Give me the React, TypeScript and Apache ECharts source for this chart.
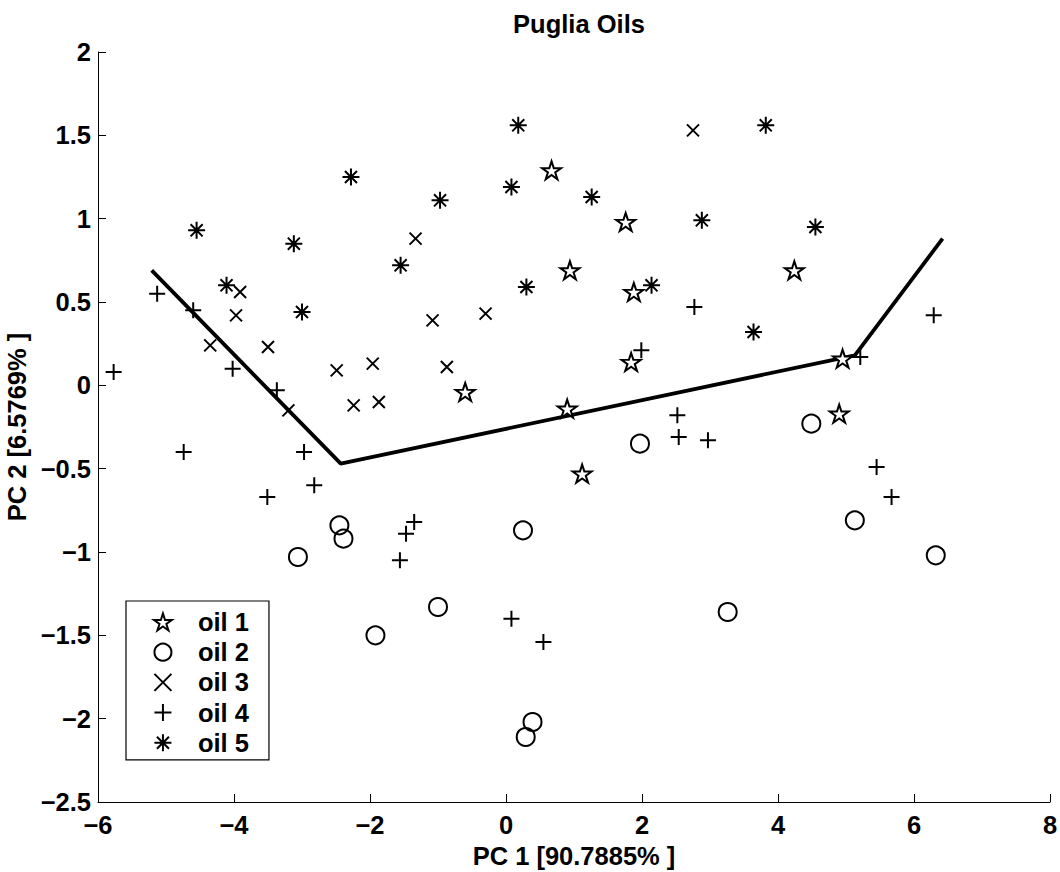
import React, { useEffect, useRef } from "react";
import * as echarts from "echarts";

const seriesNames = ["oil 1", "oil 2", "oil 3", "oil 4", "oil 5"];
const oil1 = [[0.67,1.29],[1.76,0.98],[0.94,0.69],[4.24,0.69],[1.88,0.56],[1.84,0.14],[4.95,0.16],[-0.60,-0.04],[0.90,-0.14],[4.90,-0.17],[1.12,-0.53]];
const oil2 = [[1.97,-0.35],[4.49,-0.23],[5.13,-0.81],[6.32,-1.02],[3.26,-1.36],[-2.45,-0.84],[-2.39,-0.92],[-3.06,-1.03],[0.25,-0.87],[-1.00,-1.33],[-1.92,-1.50],[0.39,-2.02],[0.29,-2.11]];
const oil3 = [[2.75,1.53],[-1.33,0.88],[-3.91,0.56],[-3.97,0.42],[-1.08,0.39],[-0.30,0.43],[-4.35,0.24],[-3.50,0.23],[-2.49,0.09],[-1.96,0.13],[-0.87,0.11],[-3.20,-0.15],[-2.24,-0.12],[-1.87,-0.10]];
const oil4 = [[-5.13,0.55],[-4.60,0.45],[-4.02,0.10],[-5.77,0.08],[-3.37,-0.03],[2.77,0.47],[6.29,0.42],[1.99,0.21],[5.21,0.17],[2.52,-0.18],[2.54,-0.31],[2.97,-0.33],[5.45,-0.49],[5.67,-0.67],[0.55,-1.54],[-4.74,-0.40],[-2.97,-0.40],[-2.82,-0.60],[-3.51,-0.67],[-1.35,-0.82],[-1.47,-0.89],[-1.56,-1.05],[0.08,-1.40]];
const oil5 = [[0.18,1.56],[-2.28,1.25],[0.08,1.19],[-0.97,1.11],[-4.55,0.93],[-3.12,0.85],[-1.55,0.72],[0.30,0.59],[-4.11,0.60],[-3.00,0.44],[3.82,1.56],[1.26,1.13],[2.88,0.99],[4.55,0.95],[2.14,0.60],[3.64,0.32]];
const trendLine = [[-5.21,0.69],[-2.43,-0.47],[5.13,0.18],[6.42,0.88]];

const xTicks = { min: -6, max: 8, interval: 2 };
const yTicks = { min: -2.5, max: 2, interval: 0.5 };

function starPath(): string {
  const pts: string[] = [];
  for (let k = 0; k < 10; k++) {
    const a = ((-90 + k * 36) * Math.PI) / 180;
    const r = k % 2 === 0 ? 10 : 3.82;
    pts.push(`${(10 + r * Math.cos(a)).toFixed(3)},${(10 + r * Math.sin(a)).toFixed(3)}`);
  }
  return "path://M" + pts.join(" L") + " Z";
}

const SYM_STAR = starPath();
const SYM_X = "path://M0,0 L10,10 M10,0 L0,10";
const SYM_PLUS = "path://M5,0 L5,10 M0,5 L10,5";
const SYM_AST = "path://M5,0 L5,10 M0,5 L10,5 M1.46,1.46 L8.54,8.54 M8.54,1.46 L1.46,8.54";

const FONT = "'Liberation Sans', Arial, Helvetica, sans-serif";
const FS = 25.5;
const fmt = (v: number) => String(v).replace("-", "\u2212");

export default function App() {
  const ref = useRef<HTMLDivElement>(null);
  useEffect(() => {
    if (!ref.current) return;
    const chart = echarts.init(ref.current, null, { renderer: "svg" });
    const mk = (name: string, data: number[][], symbol: string, size: any, fill: string) => ({
      name,
      type: "scatter",
      data,
      symbol,
      symbolSize: size,
      itemStyle: { color: fill, borderColor: "#000", borderWidth: 2, opacity: 1 },
      emphasis: { disabled: true },
    });
    const txt = { fontFamily: FONT, fontWeight: "bold", fontSize: FS, color: "#000" };
    chart.setOption({
      animation: false,
      backgroundColor: "#fff",
      title: {
        text: "Puglia Oils",
        left: 574,
        top: 6,
        textAlign: "center",
        textStyle: txt,
      },
      grid: { left: 98, right: 10, top: 52, bottom: 70, containLabel: false, outerBoundsMode: "none" },
      xAxis: {
        type: "value",
        ...xTicks,
        name: "PC 1 [90.7885% ]",
        nameLocation: "middle",
        nameGap: 35,
        nameTextStyle: txt,
        axisLine: { show: true, onZero: false, lineStyle: { color: "#000", width: 1 } },
        axisTick: { show: true, inside: true, length: 8, lineStyle: { color: "#000" } },
        splitLine: { show: false },
        axisLabel: { formatter: fmt, margin: 10, ...txt },
      },
      yAxis: {
        type: "value",
        ...yTicks,
        name: "PC 2 [6.5769% ]",
        nameLocation: "middle",
        nameGap: 52,
        nameTextStyle: txt,
        axisLine: { show: true, onZero: false, lineStyle: { color: "#000", width: 1 } },
        axisTick: { show: true, inside: true, length: 8, lineStyle: { color: "#000" } },
        splitLine: { show: false },
        axisLabel: { formatter: fmt, margin: 7, ...txt },
      },
      legend: {
        data: seriesNames,
        orient: "vertical",
        left: 126,
        top: 601,
        padding: [8, 20, 4, 27],
        itemWidth: 60,
        itemHeight: 17,
        itemGap: 4.2,
        symbolKeepAspect: true,
        selectedMode: false,
        backgroundColor: "#fff",
        borderColor: "#000",
        borderWidth: 1.2,
        borderRadius: 0,
        itemStyle: { borderWidth: 2, opacity: 1 },
        textStyle: txt,
      },
      series: [
        { name: "trend", type: "line", data: trendLine, symbol: "none", lineStyle: { color: "#000", width: 3.8 }, z: 1, emphasis: { disabled: true } },
        mk(seriesNames[0], oil1, SYM_STAR, [19, 18], "#fff"),
        mk(seriesNames[1], oil2, "circle", 18, "transparent"),
        mk(seriesNames[2], oil3, SYM_X, 12, "transparent"),
        mk(seriesNames[3], oil4, SYM_PLUS, 16, "transparent"),
        mk(seriesNames[4], oil5, SYM_AST, 17, "transparent"),
      ],
    });
    return () => chart.dispose();
  }, []);
  return <div ref={ref} style={{ position: "absolute", left: 0, top: 0, width: 1060, height: 872 }} />;
}
